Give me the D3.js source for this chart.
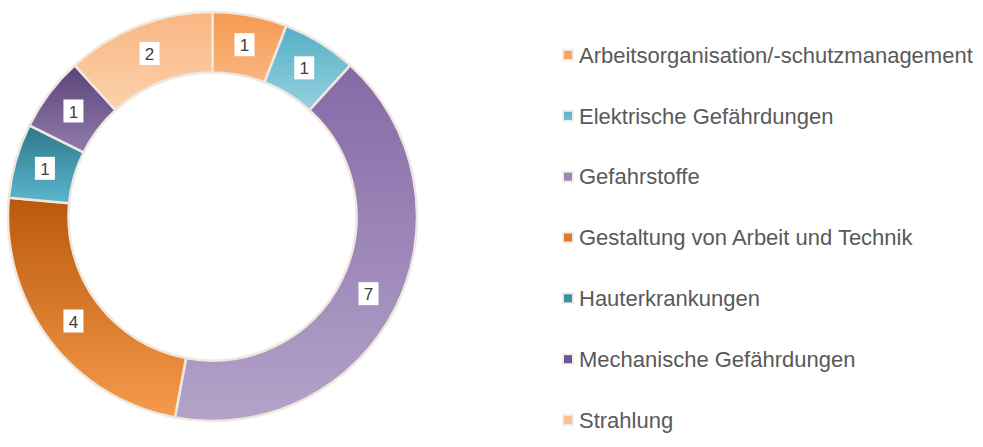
<!DOCTYPE html>
<html><head><meta charset="utf-8">
<script src="https://cdn.jsdelivr.net/npm/d3@7"></script>
<style>body{margin:0;background:#fff;}svg{display:block;} text{font-family:"Liberation Sans",Arial,sans-serif;}</style>
</head><body>
<script>
const categories = ["Arbeitsorganisation/-schutzmanagement","Elektrische Gefährdungen","Gefahrstoffe","Gestaltung von Arbeit und Technik","Hauterkrankungen","Mechanische Gefährdungen","Strahlung"];
const values = [1,1,7,4,1,1,2];
const colorsTop = ["#f59a52","#55afc7","#8669a6","#b9590d","#2d7788","#5a4377","#f9b683"];
const colorsBottom = ["#f8b680","#95d1df","#b3a3c9","#f69a4b","#5db7ce","#917aad","#fbd1ab"];
const legendColors = ["#f7a565","#62b8cf","#9a85b5","#e07a2a","#3d8ea3","#6e5690","#fac194"];

const W=983,H=447;
const svg=d3.select("body").append("svg").attr("width",W).attr("height",H);
const defs=svg.append("defs");
categories.forEach((c,i)=>{
  const g=defs.append("linearGradient").attr("id","g"+i).attr("x1",0).attr("y1",0).attr("x2",0).attr("y2",1);
  g.append("stop").attr("offset","0%").attr("stop-color",colorsTop[i]);
  g.append("stop").attr("offset","100%").attr("stop-color",colorsBottom[i]);
});
const cx=212.5,cy=216.5,rO=204.5,rI=144;
const pie=d3.pie().sort(null).value(d=>d)(values);
const arc=d3.arc().innerRadius(rI).outerRadius(rO);
const lab=d3.arc().innerRadius((rI+rO)/2).outerRadius((rI+rO)/2);
const g=svg.append("g").attr("transform",`translate(${cx},${cy})`);
g.selectAll("path").data(pie).join("path").attr("d",arc)
 .attr("fill",(d,i)=>`url(#g${i})`).attr("stroke","#efe8df").attr("stroke-width",2.5);
const lg=g.selectAll("g.l").data(pie).join("g").attr("class","l")
 .attr("transform",d=>`translate(${lab.centroid(d)})`);
lg.append("rect").attr("x",-10).attr("y",-12).attr("width",20).attr("height",23).attr("fill","#fff");
lg.append("text").attr("text-anchor","middle").attr("dy","0.36em")
 .style("font-size","17px").attr("fill","#404040")
 .text(d=>d.data);

const leg=svg.append("g");
const rowY=d3.scalePoint().domain(categories).range([55,420]);
const li=leg.selectAll("g").data(categories).join("g").attr("transform",d=>`translate(0,${rowY(d)})`);
li.append("rect").attr("x",562).attr("y",-6).attr("width",12).attr("height",12).attr("fill","#f1ece5");
li.append("rect").attr("x",564).attr("y",-4).attr("width",8).attr("height",8).attr("fill",(d,i)=>legendColors[i]);
li.append("text").attr("x",579).attr("dy","0.35em")
 .style("font-size","22px").attr("fill","#595959")
 .text(d=>d);
</script>
</body></html>
